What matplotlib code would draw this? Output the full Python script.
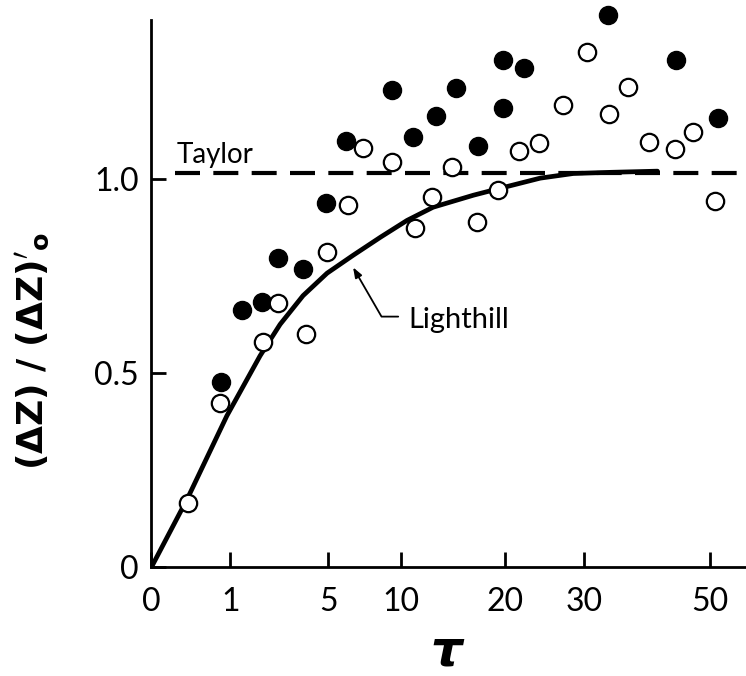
import numpy as np
import matplotlib
matplotlib.use("Agg")
import matplotlib.pyplot as plt

# values (tau, normalised dispersion)
filled_tau = [0.77, 1.31, 1.96, 2.56, 3.68, 4.88, 6.06, 9.27, 10.96, 12.97,
              14.86, 17.08, 19.80, 19.80, 22.23, 33.39, 44.08, 51.42]
filled_val = [0.477, 0.662, 0.683, 0.796, 0.768, 0.938, 1.100, 1.229, 1.108, 1.162,
              1.235, 1.085, 1.183, 1.307, 1.286, 1.423, 1.307, 1.157]

open_tau = [0.21, 0.75, 1.99, 2.56, 3.83, 4.94, 6.19, 7.17, 9.27, 11.13, 12.61, 14.47,
            16.98, 19.24, 21.64, 24.06, 27.13, 30.39, 33.54, 36.38, 39.66, 43.91,
            46.98, 50.88]
open_val = [0.165, 0.423, 0.580, 0.680, 0.601, 0.812, 0.933, 1.080, 1.044, 0.874, 0.954,
            1.031, 0.889, 0.972, 1.072, 1.093, 1.191, 1.327, 1.168, 1.237, 1.095, 1.077,
            1.121, 0.943]

# Lighthill curve
lighthill_tau = [0, 0.21, 0.91, 1.89, 2.65, 3.68, 4.94, 6.51, 8.41, 10.46, 12.70,
                 16.6, 19.5, 24.2, 28.5, 33.8, 41.0]
lighthill_val = [0, 0.178, 0.390, 0.545, 0.626, 0.700, 0.758, 0.804, 0.851, 0.894,
                 0.928, 0.959, 0.977, 1.003, 1.015, 1.018, 1.021]

taylor_level = 1.015

xticks = [0, 1, 5, 10, 20, 30, 50]
yticks = [0, 0.5, 1.0]
yticklabels = ["0", "0.5", "1.0"]

font = "Lato"

fig = plt.figure(figsize=(7.46, 6.76), dpi=100)
ax = fig.add_axes([0.203, 0.161, 0.797, 0.809])

ax.set_xscale("function", functions=(lambda t: np.sqrt(np.clip(t, 0, None)),
                                     lambda s: s ** 2))
ax.set_xlim(0, 56.6)
ax.set_ylim(0, 1.41)

# Taylor limit (dashed) and Lighthill curve
ax.plot([0.09, 56.6], [taylor_level, taylor_level], color="black", lw=3,
        dashes=(6, 3.2), solid_capstyle="butt")
ax.plot(lighthill_tau, lighthill_val, color="black", lw=3.4, solid_capstyle="round",
        solid_joinstyle="round")

# data points
ax.plot(filled_tau, filled_val, "o", color="black", ms=13, zorder=3, clip_on=False)
ax.plot(open_tau, open_val, "o", mfc="white", mec="black", mew=1.6, ms=12.5,
        zorder=3, clip_on=False)

# labels on the curves
ax.text(0.104, 1.041, "Taylor", fontsize=20, family=font,
        ha="left", va="baseline")
ax.text(10.54, 0.616, "Lighthill", fontsize=21, family=font,
        ha="left", va="baseline")
ax.annotate("", xy=(6.51, 0.773), xytext=(9.75, 0.646),
            arrowprops=dict(arrowstyle="-|>,head_length=0.6,head_width=0.22",
                            connectionstyle="angle,angleA=0,angleB=-60,rad=0",
                            color="black", lw=1.3, shrinkA=0, shrinkB=0))

# axes styling
for side in ["top", "right"]:
    ax.spines[side].set_visible(False)
for side in ["left", "bottom"]:
    ax.spines[side].set_linewidth(2.0)

ax.set_xticks(xticks)
ax.set_xticklabels([str(t) for t in xticks], family=font)
ax.set_yticks(yticks)
ax.set_yticklabels(yticklabels, family=font)
ax.tick_params(axis="both", direction="in", length=11, width=2.0, labelsize=23)
ax.tick_params(axis="x", pad=14)
ax.tick_params(axis="y", pad=9)

fig.text(446 / 746, 0.0, "τ", fontsize=36, fontweight="bold", fontstyle="italic",
         ha="center", va="bottom")
ax.set_ylabel(r"$\mathbf{(\Delta Z)\ /\ (\Delta Z)'_o}$", fontsize=26)
ax.yaxis.set_label_coords(-0.168, 0.395)

fig.savefig("out.png", dpi=100)
